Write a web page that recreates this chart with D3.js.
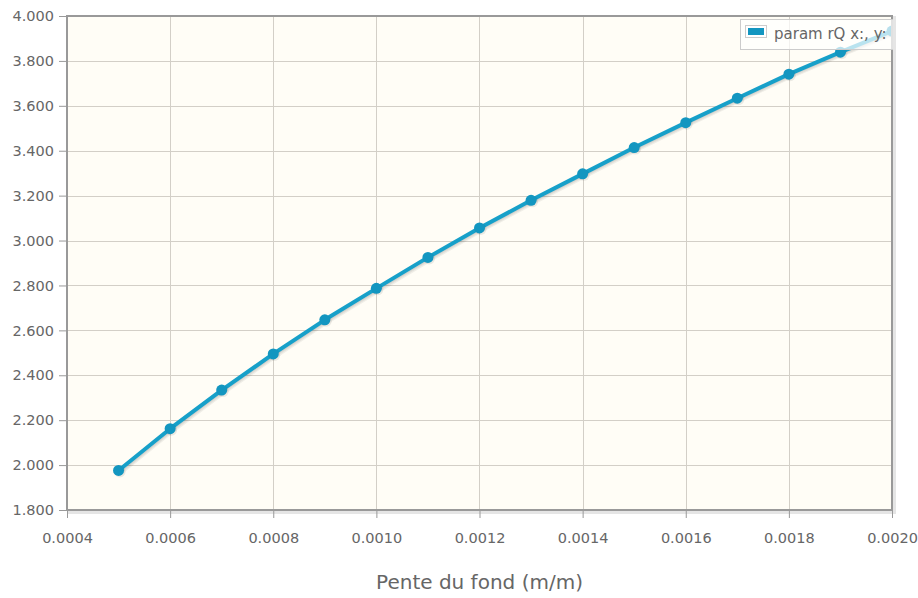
<!DOCTYPE html>
<html>
<head>
<meta charset="utf-8">
<script src="https://cdn.jsdelivr.net/npm/d3@7"></script>
<style>
  html, body { margin: 0; padding: 0; background: #ffffff; }
  svg { display: block; font-family: "DejaVu Sans", Verdana, sans-serif; }
</style>
</head>
<body>
<svg id="chart" width="918" height="598"></svg>
<script>
// ---- data ----
const xValues = [0.0005, 0.0006, 0.0007, 0.0008, 0.0009, 0.0010, 0.0011, 0.0012,
                 0.0013, 0.0014, 0.0015, 0.0016, 0.0017, 0.0018, 0.0019, 0.0020];
const yValues = [1.976, 2.162, 2.334, 2.495, 2.647, 2.787, 2.925, 3.056,
                 3.179, 3.297, 3.414, 3.525, 3.634, 3.741, 3.839, 3.933];
const xTicks = [0.0004, 0.0006, 0.0008, 0.0010, 0.0012, 0.0014, 0.0016, 0.0018, 0.0020];
const yTicks = [1.8, 2.0, 2.2, 2.4, 2.6, 2.8, 3.0, 3.2, 3.4, 3.6, 3.8, 4.0];
const seriesName = "param rQ x:, y:";
const xTitle = "Pente du fond (m/m)";

// ---- layout ----
const W = 918, H = 598;
const plot = { left: 67, right: 892, top: 16, bottom: 510 };
const svg = d3.select("#chart");

const x = d3.scaleLinear().domain([0.0004, 0.0020]).range([plot.left, plot.right]);
const y = d3.scaleLinear().domain([1.8, 4.0]).range([plot.bottom, plot.top]);

svg.append("clipPath").attr("id", "plotclip")
  .append("rect").attr("x", plot.left).attr("y", plot.top)
  .attr("width", plot.right - plot.left).attr("height", plot.bottom - plot.top);

// plot frame shadow
svg.append("rect")
  .attr("x", plot.left + 2).attr("y", plot.top + 2)
  .attr("width", plot.right - plot.left).attr("height", plot.bottom - plot.top)
  .attr("fill", "none").attr("stroke", "rgba(0,0,0,0.10)").attr("stroke-width", 4);

// plot background
svg.append("rect")
  .attr("x", plot.left).attr("y", plot.top)
  .attr("width", plot.right - plot.left).attr("height", plot.bottom - plot.top)
  .attr("fill", "#fffdf6");

// grid
const grid = svg.append("g").attr("stroke", "#d3cfc7").attr("stroke-width", 1);
grid.selectAll("line.h").data(yTicks).join("line")
  .attr("x1", plot.left).attr("x2", plot.right)
  .attr("y1", d => Math.round(y(d)) + 0.5).attr("y2", d => Math.round(y(d)) + 0.5);
grid.selectAll("line.v").data(xTicks).join("line")
  .attr("y1", plot.top).attr("y2", plot.bottom)
  .attr("x1", d => Math.round(x(d)) + 0.5).attr("x2", d => Math.round(x(d)) + 0.5);

// axes (ticks outside, labels)
const yAxis = d3.axisLeft(y).tickValues(yTicks).tickSize(8).tickPadding(5)
  .tickFormat(d3.format(".3f"));
const gy = svg.append("g").attr("transform", `translate(${plot.left},0)`).call(yAxis);
gy.select(".domain").remove();
gy.selectAll(".tick line").attr("stroke", "#999");
gy.selectAll(".tick text").attr("fill", "#666").attr("font-size", "14.5px")
  .attr("font-family", "DejaVu Sans, Verdana, sans-serif");

const xAxis = d3.axisBottom(x).tickValues(xTicks).tickSize(8).tickPadding(15)
  .tickFormat(d3.format(".4f"));
const gx = svg.append("g").attr("transform", `translate(0,${plot.bottom})`).call(xAxis);
gx.select(".domain").remove();
gx.selectAll(".tick line").attr("stroke", "#999");
gx.selectAll(".tick text").attr("fill", "#666").attr("font-size", "14.5px")
  .attr("font-family", "DejaVu Sans, Verdana, sans-serif");

// series
const data = xValues.map((v, i) => ({ x: v, y: yValues[i] }));
const line = d3.line().x(d => x(d.x)).y(d => y(d.y));
const series = svg.append("g").attr("clip-path", "url(#plotclip)");

// series shadow
[1.2, 2.4, 3.6].forEach(off => {
  series.append("path").datum(data)
    .attr("d", line)
    .attr("transform", `translate(${off * 0.7},${off * 0.7})`)
    .attr("fill", "none").attr("stroke", "rgba(0,0,0,0.06)")
    .attr("stroke-width", 3.5).attr("stroke-linejoin", "round");
});
series.append("path").datum(data)
  .attr("d", line)
  .attr("fill", "none").attr("stroke", "#17a0c9")
  .attr("stroke-width", 4).attr("stroke-linejoin", "round").attr("stroke-linecap", "round");

series.append("g").selectAll("circle.s").data(data).join("circle")
  .attr("cx", d => x(d.x) + 1.2).attr("cy", d => y(d.y) + 1.2).attr("r", 5.8)
  .attr("fill", "rgba(0,0,0,0.08)");
series.append("g").selectAll("circle.m").data(data).join("circle")
  .attr("cx", d => x(d.x)).attr("cy", d => y(d.y)).attr("r", 5.5)
  .attr("fill", "#1396c0");

// frame border
svg.append("rect")
  .attr("x", plot.left).attr("y", plot.top)
  .attr("width", plot.right - plot.left).attr("height", plot.bottom - plot.top)
  .attr("fill", "none").attr("stroke", "#999").attr("stroke-width", 2);

// legend
svg.append("clipPath").attr("id", "legclip")
  .append("rect").attr("x", 738).attr("y", 15).attr("width", 155).attr("height", 40);
const leg = svg.append("g").attr("clip-path", "url(#legclip)");
leg.append("rect")
  .attr("x", 740.5).attr("y", 19.5).attr("width", 160).attr("height", 30)
  .attr("fill", "rgba(255,255,255,0.7)").attr("stroke", "#cccccc");
leg.append("rect")
  .attr("x", 745.5).attr("y", 25.5).attr("width", 21).attr("height", 12)
  .attr("fill", "#ffffff").attr("stroke", "#cccccc");
leg.append("rect")
  .attr("x", 748).attr("y", 28).attr("width", 16).attr("height", 7)
  .attr("fill", "#1396c0");
leg.append("text")
  .attr("x", 774).attr("y", 38.5)
  .attr("fill", "#666").attr("font-size", "15px")
  .text(seriesName);

// x axis title
svg.append("text")
  .attr("x", (plot.left + plot.right) / 2).attr("y", 589)
  .attr("text-anchor", "middle").attr("fill", "#666").attr("font-size", "20px")
  .text(xTitle);
</script>
</body>
</html>
